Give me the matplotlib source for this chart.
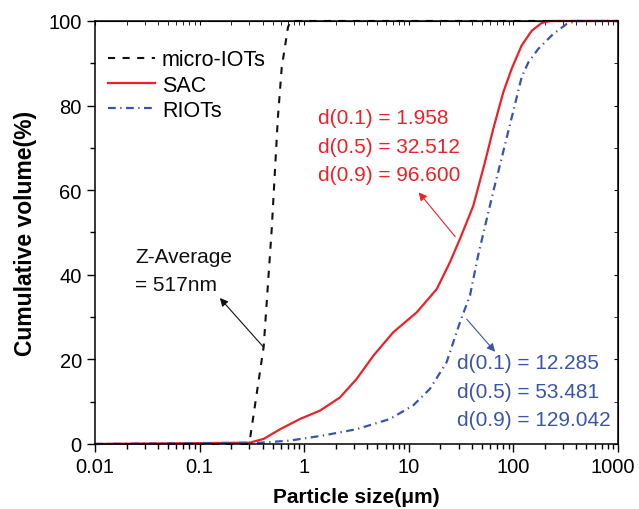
import matplotlib
matplotlib.use('Agg')
import matplotlib.pyplot as plt
import matplotlib.transforms as mtransforms
from matplotlib.ticker import LogLocator, MultipleLocator, NullFormatter, FixedLocator
import numpy as np

plt.rcParams['font.family'] = ['Liberation Sans', 'DejaVu Sans']

# micro-IOTs (black dashed)
micro_x = [0.01, 0.29, 0.30, 0.41, 0.49, 0.56, 0.61, 0.70, 0.74, 1000]
micro_y = [0, 0, 0.4, 23, 51, 77, 89, 98.5, 100, 100]

# SAC (red solid)
sac_x = [0.01, 0.30, 0.41, 0.59, 0.91, 1.42, 2.2, 3.18, 4.6, 7.1, 11.9, 18.5,
         24.8, 30.9, 41.4, 53.5, 64.3, 80, 96.4, 120, 150, 186, 224, 1000]
sac_y = [0, 0.3, 1.2, 3.5, 5.9, 7.9, 11, 15.4, 20.9, 26.4, 31.1, 36.6,
         43, 48.5, 56.3, 66.6, 74.5, 83.1, 88.7, 94.2, 97.7, 99.5, 100, 100]

# RIOTs (blue dash-dot)
riots_x = [0.01, 0.38, 0.73, 1.52, 3.18, 6.6, 11, 15.9, 23, 30.9, 38.5, 46,
           64, 77, 89, 103, 120, 139, 173, 240, 324, 400, 1000]
riots_y = [0, 0.3, 0.8, 2, 3.5, 5.9, 9.1, 13, 19.3, 28.8, 35.1, 44.5,
           59.5, 67.4, 73.7, 80, 86.7, 90.2, 93.4, 96.9, 99.3, 100, 100]

xticks = [0.01, 0.1, 1, 10, 100, 1000]
xticklabels = ['0.01', '0.1', '1', '10', '100', '1000']

black = '#111111'
red = '#ea2229'
blue = '#3a55a8'

fig = plt.figure(figsize=(6.39, 5.10), dpi=100)
ax = fig.add_axes([0.1487, 0.1275, 0.8183, 0.8294])

ax.plot(micro_x, micro_y, color=black, lw=1.5, ls=(0, (3.4, 3.6)), label='micro-IOTs',
        clip_on=False)
ax.plot(sac_x, sac_y, color=red, lw=1.6, label='SAC', clip_on=False)
ax.plot(riots_x, riots_y, color=blue, lw=1.6, ls=(0, (3.5, 2.0, 0.6, 2.0)), label='RIOTs',
        clip_on=False)

ax.set_xscale('log')
ax.set_xlim(0.01, 1000)
ax.set_ylim(0, 100)
ax.xaxis.set_major_locator(FixedLocator(xticks))
ax.set_xticklabels(xticklabels)
ax.xaxis.set_minor_locator(LogLocator(base=10, subs=np.arange(2, 10), numticks=20))
ax.xaxis.set_minor_formatter(NullFormatter())
ax.yaxis.set_major_locator(MultipleLocator(20))
ax.yaxis.set_minor_locator(MultipleLocator(10))

ax.tick_params(which='both', direction='out', labelsize=14.5)
ax.tick_params(which='major', length=6, width=1)
ax.tick_params(which='minor', length=3.5, width=1)
for s in ax.spines.values():
    s.set_linewidth(1.1)

# nudge the last x label so it stays inside the figure
last = ax.xaxis.get_major_ticks()[-1].label1
last.set_transform(last.get_transform() +
                   mtransforms.ScaledTranslation(-4 / 72, 0, fig.dpi_scale_trans))

top = ax.secondary_xaxis('top')
top.set_xticks(xticks)
top.tick_params(which='both', direction='in', labeltop=False, length=3)
top.xaxis.set_minor_locator(LogLocator(base=10, subs=np.arange(2, 10), numticks=20))
top.xaxis.set_minor_formatter(NullFormatter())
right = ax.secondary_yaxis('right')
right.yaxis.set_major_locator(MultipleLocator(20))
right.yaxis.set_minor_locator(MultipleLocator(10))
right.tick_params(which='both', direction='in', labelright=False, length=3)

ax.set_xlabel('Particle size(\u03bcm)', fontsize=15, fontweight='bold', labelpad=8)
ax.set_ylabel('Cumulative volume(%)', fontsize=16.5, fontweight='bold', labelpad=8)

ax.legend(loc='upper left', frameon=False, fontsize=15.5, handlelength=2.2,
          handletextpad=0.3, labelspacing=0.2, borderpad=0, borderaxespad=0,
          bbox_to_anchor=(0.025, 0.933))

ax.text(0.0241, 41.1, 'Z-Average\n= 517nm', fontsize=15, color=black,
        linespacing=1.6, va='center', ha='left')
ax.annotate('', xy=(0.150, 35.0), xytext=(0.422, 22.5),
            arrowprops=dict(arrowstyle='-|>', color=black, lw=0.8, mutation_scale=12))

ax.text(1.355, 70.4, 'd(0.1) = 1.958\nd(0.5) = 32.512\nd(0.9) = 96.600',
        fontsize=15, color=red, linespacing=1.65, va='center', ha='left')
ax.annotate('', xy=(11.97, 60.0), xytext=(28.9, 48.5),
            arrowprops=dict(arrowstyle='-|>', color=red, lw=0.8, mutation_scale=12))

ax.text(28.9, 12.5, 'd(0.1) = 12.285\nd(0.5) = 53.481\nd(0.9) = 129.042',
        fontsize=15, color=blue, linespacing=1.63, va='center', ha='left')
ax.annotate('', xy=(69.7, 21.3), xytext=(34.4, 30.0),
            arrowprops=dict(arrowstyle='-|>', color=blue, lw=0.8, mutation_scale=12))

fig.savefig('out.png', dpi=100)
